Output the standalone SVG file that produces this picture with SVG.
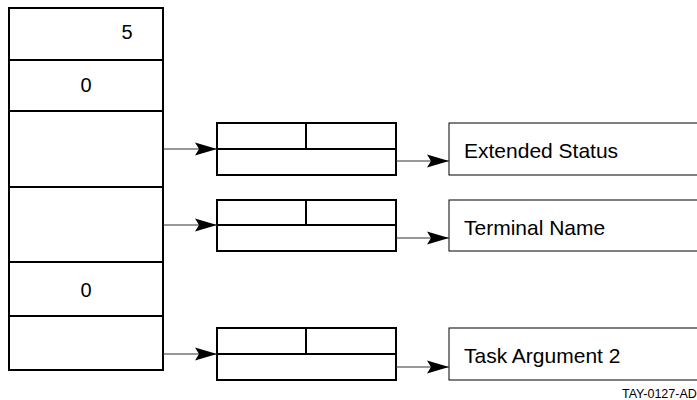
<svg xmlns="http://www.w3.org/2000/svg" width="697" height="400" viewBox="0 0 697 400">
<style>
.thick{fill:#fff;stroke:#000;stroke-width:2}
.thin{fill:#fff;stroke:#000;stroke-width:1}
.conn{fill:none;stroke:#333;stroke-width:1.2}
text{font-family:"Liberation Sans",Arial,sans-serif;fill:#000}
.lbl{font-size:21px}
.num{font-size:20px}
.code{font-size:12.5px}
</style>
<defs>
<marker id="ah" markerUnits="userSpaceOnUse" markerWidth="24" markerHeight="14" refX="22" refY="7" orient="auto">
<path d="M0,0.5 L22,7 L0,13.5 L4,7 Z" fill="#000"/>
</marker>
</defs>
<g id="stack">
<rect class="thick" x="9" y="8" width="154" height="362"/>
<line class="thick" x1="9" y1="60" x2="163" y2="60"/>
<line class="thick" x1="9" y1="111" x2="163" y2="111"/>
<line class="thick" x1="9" y1="187" x2="163" y2="187"/>
<line class="thick" x1="9" y1="262" x2="163" y2="262"/>
<line class="thick" x1="9" y1="316" x2="163" y2="316"/>
<text class="num" x="127" y="39" text-anchor="middle">5</text>
<text class="num" x="86" y="92" text-anchor="middle">0</text>
<text class="num" x="86" y="297" text-anchor="middle">0</text>
</g>
<g id="mid1">
<rect class="thick" x="217" y="123" width="179" height="52"/>
<line class="thick" x1="217" y1="149" x2="396" y2="149"/>
<line class="thick" x1="306" y1="123" x2="306" y2="149"/>
</g>
<g id="mid2">
<rect class="thick" x="217" y="200" width="179" height="51"/>
<line class="thick" x1="217" y1="225" x2="396" y2="225"/>
<line class="thick" x1="306" y1="200" x2="306" y2="225"/>
</g>
<g id="mid3">
<rect class="thick" x="217" y="328" width="179" height="52"/>
<line class="thick" x1="217" y1="354" x2="396" y2="354"/>
<line class="thick" x1="306" y1="328" x2="306" y2="354"/>
</g>
<g id="r1">
<rect class="thin" x="449" y="123" width="260" height="52"/>
<text class="lbl" x="464" y="158">Extended Status</text>
</g>
<g id="r2">
<rect class="thin" x="449" y="200" width="260" height="51"/>
<text class="lbl" x="464" y="235">Terminal Name</text>
</g>
<g id="r3">
<rect class="thin" x="449" y="328" width="260" height="52"/>
<text class="lbl" x="464" y="363">Task Argument 2</text>
</g>
<g id="connectors">
<line class="conn" x1="163" y1="149" x2="217" y2="149" marker-end="url(#ah)"/>
<line class="conn" x1="163" y1="225" x2="217" y2="225" marker-end="url(#ah)"/>
<line class="conn" x1="163" y1="354" x2="217" y2="354" marker-end="url(#ah)"/>
<line class="conn" x1="396" y1="161" x2="449" y2="161" marker-end="url(#ah)"/>
<line class="conn" x1="396" y1="238" x2="449" y2="238" marker-end="url(#ah)"/>
<line class="conn" x1="396" y1="367" x2="449" y2="367" marker-end="url(#ah)"/>
</g>
<text class="code" x="622" y="398">TAY-0127-AD</text>
</svg>
